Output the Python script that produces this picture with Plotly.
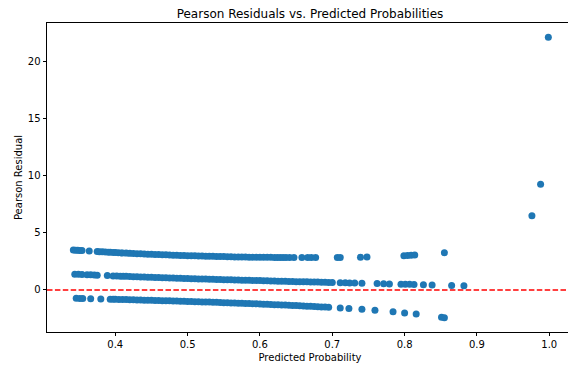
import plotly.graph_objects as go

# Observations whose response was 2
p_two = [0.342, 0.345, 0.348, 0.351, 0.354, 0.364, 0.375, 0.378, 0.382, 0.386,
         0.390, 0.393, 0.397, 0.400, 0.404, 0.408, 0.410, 0.415, 0.420, 0.425,
         0.430, 0.435, 0.440, 0.445, 0.450, 0.455, 0.460, 0.465, 0.470, 0.475,
         0.480, 0.485, 0.490, 0.495, 0.500, 0.505, 0.510, 0.515, 0.520, 0.525,
         0.530, 0.535, 0.540, 0.545, 0.550, 0.555, 0.560, 0.565, 0.570, 0.575,
         0.580, 0.585, 0.590, 0.595, 0.600, 0.605, 0.610, 0.615, 0.620, 0.624,
         0.628, 0.632, 0.636, 0.641, 0.647, 0.658, 0.666, 0.671, 0.677, 0.707,
         0.711, 0.739, 0.748, 0.799, 0.804, 0.809, 0.814, 0.855]
r_two = [3.49, 3.48, 3.47, 3.45, 3.44, 3.40, 3.36, 3.34, 3.33, 3.32,
         3.30, 3.29, 3.28, 3.27, 3.25, 3.24, 3.23, 3.22, 3.20, 3.19,
         3.17, 3.16, 3.14, 3.13, 3.12, 3.10, 3.09, 3.08, 3.07, 3.05,
         3.04, 3.03, 3.02, 3.01, 3.00, 2.99, 2.98, 2.97, 2.96, 2.95,
         2.95, 2.94, 2.93, 2.92, 2.92, 2.91, 2.90, 2.89, 2.89, 2.88,
         2.88, 2.87, 2.87, 2.86, 2.86, 2.85, 2.85, 2.85, 2.84, 2.84,
         2.84, 2.84, 2.84, 2.83, 2.83, 2.83, 2.83, 2.83, 2.83, 2.84,
         2.84, 2.87, 2.88, 3.00, 3.01, 3.03, 3.05, 3.25]

# Observations whose response was 1
p_one = [0.344, 0.349, 0.354, 0.361, 0.366, 0.371, 0.375, 0.389, 0.397, 0.402,
         0.407, 0.411, 0.415, 0.420, 0.425, 0.430, 0.435, 0.440, 0.445, 0.450,
         0.455, 0.460, 0.465, 0.470, 0.475, 0.480, 0.485, 0.490, 0.495, 0.500,
         0.505, 0.510, 0.515, 0.520, 0.525, 0.530, 0.535, 0.540, 0.545, 0.550,
         0.555, 0.560, 0.565, 0.570, 0.575, 0.580, 0.585, 0.590, 0.595, 0.600,
         0.605, 0.610, 0.615, 0.620, 0.625, 0.630, 0.635, 0.640, 0.645, 0.650,
         0.655, 0.660, 0.665, 0.670, 0.675, 0.680, 0.685, 0.690, 0.695, 0.700,
         0.711, 0.718, 0.724, 0.731, 0.741, 0.762, 0.771, 0.779, 0.795, 0.801,
         0.807, 0.813, 0.826, 0.838, 0.865, 0.882]
r_one = [1.38, 1.37, 1.35, 1.33, 1.32, 1.30, 1.29, 1.26, 1.23, 1.22,
         1.21, 1.20, 1.19, 1.18, 1.16, 1.15, 1.14, 1.13, 1.12, 1.11,
         1.09, 1.08, 1.07, 1.06, 1.05, 1.04, 1.03, 1.02, 1.01, 1.00,
         0.99, 0.98, 0.97, 0.96, 0.95, 0.94, 0.93, 0.92, 0.91, 0.90,
         0.90, 0.89, 0.88, 0.87, 0.86, 0.85, 0.84, 0.83, 0.83, 0.82,
         0.81, 0.80, 0.79, 0.78, 0.77, 0.77, 0.76, 0.75, 0.74, 0.73,
         0.73, 0.72, 0.71, 0.70, 0.69, 0.69, 0.68, 0.67, 0.66, 0.65,
         0.64, 0.63, 0.62, 0.61, 0.59, 0.56, 0.55, 0.53, 0.51, 0.50,
         0.49, 0.48, 0.46, 0.44, 0.40, 0.37]

# Observations whose response was 0
p_zero = [0.346, 0.351, 0.355, 0.366, 0.380, 0.393, 0.397, 0.400, 0.405, 0.410,
          0.415, 0.420, 0.425, 0.430, 0.435, 0.440, 0.445, 0.450, 0.455, 0.460,
          0.465, 0.470, 0.475, 0.480, 0.485, 0.490, 0.495, 0.500, 0.505, 0.510,
          0.515, 0.520, 0.525, 0.530, 0.535, 0.540, 0.545, 0.550, 0.555, 0.560,
          0.565, 0.570, 0.575, 0.580, 0.585, 0.590, 0.595, 0.600, 0.605, 0.610,
          0.615, 0.620, 0.625, 0.630, 0.635, 0.640, 0.645, 0.650, 0.655, 0.660,
          0.665, 0.670, 0.675, 0.680, 0.685, 0.690, 0.695, 0.711, 0.723, 0.741,
          0.759, 0.784, 0.800, 0.816, 0.851, 0.855]
r_zero = [-0.73, -0.74, -0.74, -0.76, -0.78, -0.80, -0.81, -0.82, -0.83, -0.83,
          -0.84, -0.85, -0.86, -0.87, -0.88, -0.89, -0.90, -0.90, -0.91, -0.92,
          -0.93, -0.94, -0.95, -0.96, -0.97, -0.98, -0.99, -1.00, -1.01, -1.02,
          -1.03, -1.04, -1.05, -1.06, -1.07, -1.08, -1.09, -1.11, -1.12, -1.13,
          -1.14, -1.15, -1.16, -1.18, -1.19, -1.20, -1.21, -1.22, -1.24, -1.25,
          -1.26, -1.28, -1.29, -1.31, -1.32, -1.33, -1.35, -1.36, -1.38, -1.39,
          -1.41, -1.43, -1.44, -1.46, -1.48, -1.49, -1.51, -1.57, -1.62, -1.69,
          -1.78, -1.90, -2.00, -2.10, -2.39, -2.43]

# Extreme points near p = 1
p_extreme = [0.976, 0.988, 0.9987]
r_extreme = [6.49, 9.23, 22.07]

x_ticks = [0.4, 0.5, 0.6, 0.7, 0.8, 0.9, 1.0]
x_tick_text = ["0.4", "0.5", "0.6", "0.7", "0.8", "0.9", "1.0"]
y_ticks = [0, 5, 10, 15, 20]
y_tick_text = ["0", "5", "10", "15", "20"]

predicted = p_two + p_one + p_zero + p_extreme
residuals = r_two + r_one + r_zero + r_extreme

FONT = "DejaVu Sans"
BLUE = "#1f77b4"

# The figure is laid out a little wider than the page so that the right
# spine falls just past the visible edge; the container clips it.
FIG_W, PAGE_W = 573, 568

fig = go.Figure()
fig.add_trace(go.Scatter(
    x=predicted, y=residuals, mode="markers",
    marker=dict(color=BLUE, size=7, opacity=1, line=dict(width=0)),
    showlegend=False, hoverinfo="x+y",
))

# zero reference line
fig.add_hline(y=0, line=dict(color="red", width=1.5, dash="5.5px,2.4px"))

axis_common = dict(
    showline=True, linecolor="black", linewidth=0.8,
    ticks="outside", ticklen=3.5, tickwidth=0.8, tickcolor="black",
    showgrid=False, zeroline=False,
    tickfont=dict(family=FONT, size=10, color="black"),
)

fig.update_layout(
    width=FIG_W, height=365,
    margin=dict(l=47, r=0, t=23, b=33),
    paper_bgcolor="white", plot_bgcolor="white",
    font=dict(family=FONT, color="black"),
    title=dict(
        text="Pearson Residuals vs. Predicted Probabilities",
        font=dict(family=FONT, size=12, color="black"),
        xref="paper", x=0.5, xanchor="center",
        yref="container", y=1 - 14 / 365, yanchor="middle",
    ),
    xaxis=dict(
        **axis_common, mirror=True,
        range=[0.3056, 1.0328],
        tickvals=x_ticks, ticktext=x_tick_text,
        title=dict(text="Predicted Probability",
                   font=dict(family=FONT, size=10, color="black"),
                   standoff=4),
    ),
    yaxis=dict(
        **axis_common, mirror=True,
        range=[-3.67, 23.32],
        tickvals=y_ticks, ticktext=y_tick_text,
        title=dict(text="Pearson Residual",
                   font=dict(family=FONT, size=10, color="black"),
                   standoff=3),
    ),
)

clip_js = (
    "var d = document.getElementById('{plot_id}');"
    "d.style.width = '%dpx'; d.style.overflow = 'hidden';" % PAGE_W
)

fig.write_html("out.html", config={"displayModeBar": False},
               post_script=clip_js)
